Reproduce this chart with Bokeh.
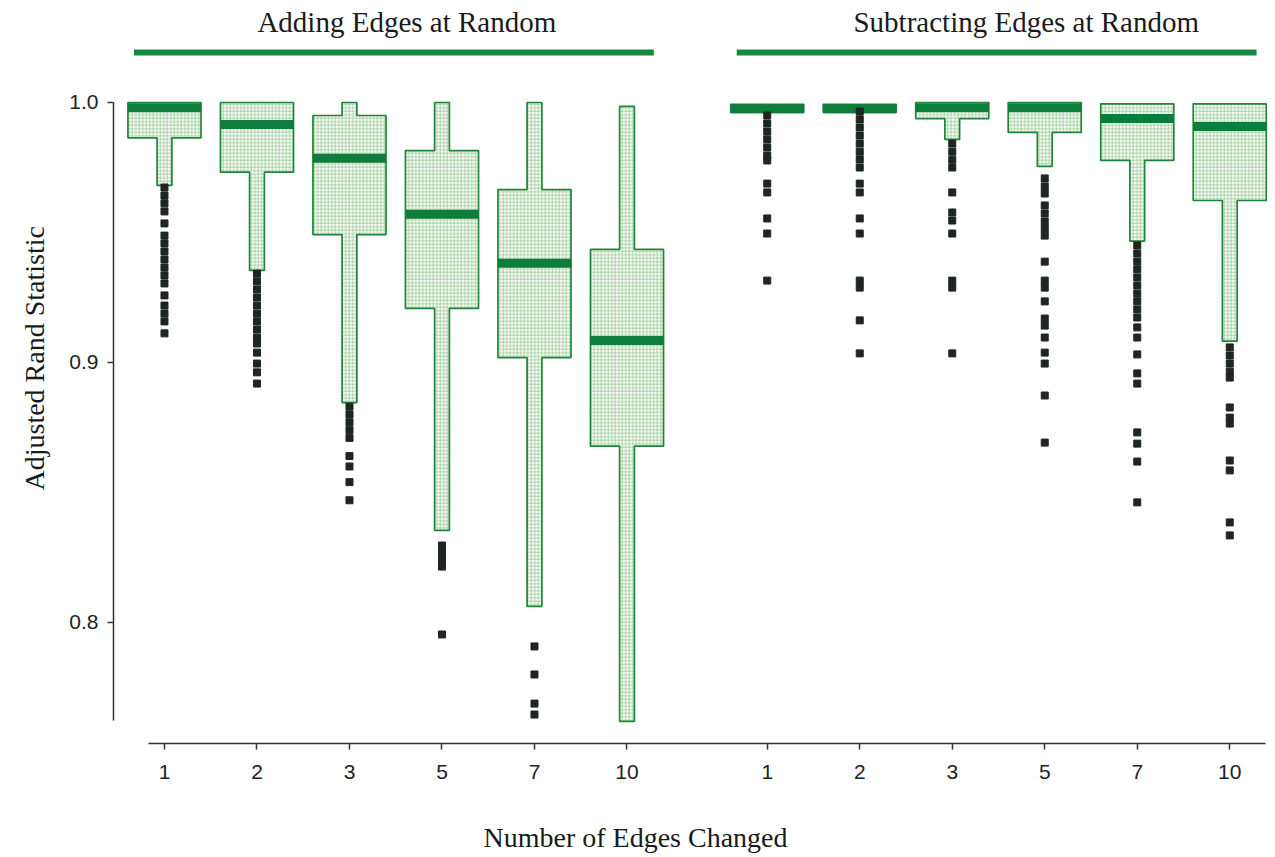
from bokeh.plotting import figure
from bokeh.models import Range1d, FixedTicker, Title, PrintfTickFormatter
from bokeh.core.properties import value
from bokeh.embed import file_html
from bokeh.resources import INLINE

# ---------------- data ----------------
categories = ["1", "2", "3", "5", "7", "10"]
panel_titles = ["Adding Edges at Random", "Subtracting Edges at Random"]

add_whisker_hi = [1.0, 1.0, 1.0, 1.0, 1.0, 0.9985]
add_q3 = [1.0, 1.0, 0.995, 0.9815, 0.9665, 0.9435]
add_median = [0.998, 0.9915, 0.9786, 0.957, 0.9382, 0.9085]
add_q1 = [0.9864, 0.9732, 0.9492, 0.9208, 0.9019, 0.8678]
add_whisker_lo = [0.9681, 0.9354, 0.8846, 0.8354, 0.8062, 0.7620]
add_outliers = [
    [0.9673, 0.9642, 0.9612, 0.9581, 0.9535, 0.9488, 0.9458, 0.9427, 0.9396,
     0.9365, 0.9335, 0.9304, 0.9258, 0.9219, 0.9188, 0.9158, 0.9112],
    [0.9342, 0.9312, 0.9281, 0.9250, 0.9219, 0.9188, 0.9158, 0.9127, 0.9096,
     0.9073, 0.9038, 0.8996, 0.8962, 0.8919],
    [0.8830, 0.8800, 0.8770, 0.8740, 0.8710, 0.8640, 0.8600, 0.8540, 0.8470],
    [0.8296, 0.8269, 0.8242, 0.8215, 0.7954],
    [0.7908, 0.7800, 0.7688, 0.7646],
    [],
]

sub_whisker_hi = [0.9993, 0.9993, 1.0, 1.0, 0.9995, 0.9995]
sub_q3 = [0.9993, 0.9993, 1.0, 1.0, 0.9995, 0.9995]
sub_median = [0.9976, 0.9976, 0.998, 0.998, 0.9938, 0.9908]
sub_q1 = [0.9962, 0.9962, 0.9938, 0.9885, 0.9777, 0.9623]
sub_whisker_lo = [0.9962, 0.9962, 0.9858, 0.9754, 0.9467, 0.9082]
sub_outliers = [
    [0.9950, 0.9919, 0.9888, 0.9858, 0.9827, 0.9796, 0.9777, 0.9688, 0.9654,
     0.9554, 0.9496, 0.9315],
    [0.9965, 0.9935, 0.9904, 0.9873, 0.9842, 0.9811, 0.9781, 0.9750, 0.9688,
     0.9654, 0.9554, 0.9496, 0.9315, 0.9288, 0.9162, 0.9035],
    [0.9842, 0.9811, 0.9780, 0.9750, 0.9654, 0.9577, 0.9546, 0.9496, 0.9315,
     0.9288, 0.9035],
    [0.9708, 0.9677, 0.9650, 0.9604, 0.9573, 0.9542, 0.9515, 0.9488, 0.9388,
     0.9315, 0.9288, 0.9235, 0.9169, 0.9142, 0.9096, 0.9038, 0.8996, 0.8873,
     0.8692],
    [0.9450, 0.9419, 0.9388, 0.9358, 0.9327, 0.9296, 0.9265, 0.9235, 0.9204,
     0.9173, 0.9135, 0.9096, 0.9031, 0.8958, 0.8919, 0.8731, 0.8688, 0.8619,
     0.8462],
    [0.9058, 0.9027, 0.8996, 0.8965, 0.8942, 0.8827, 0.8788, 0.8765, 0.8623,
     0.8585, 0.8385, 0.8335],
]

# ---------------- layout / style ----------------
GROUP_OFFSETS = [0.0, 6.516]
BOX_W = 0.79
WHISK_W = 0.16
GREEN_EDGE = "#1f853b"
GREEN_MED = "#0d7d3c"
GREEN_RULE = "#14893f"
HATCH = "#93c58c"
DOT = "#1f2622"
SERIF = "Liberation Serif"
SANS = "Liberation Sans"

p = figure(frame_width=1154, frame_height=735,
           x_range=Range1d(-0.551, 11.924), y_range=Range1d(0.75346, 1.03615),
           output_backend="svg", toolbar_location=None,
           min_border_left=113, min_border_right=0, min_border_top=8, min_border_bottom=0)
p.xgrid.visible = False
p.ygrid.visible = False
p.outline_line_color = None
p.background_fill_color = "white"
p.border_fill_color = "white"

groups = [
    (add_whisker_hi, add_q3, add_median, add_q1, add_whisker_lo, add_outliers),
    (sub_whisker_hi, sub_q3, sub_median, sub_q1, sub_whisker_lo, sub_outliers),
]

poly_xs, poly_ys = [], []
med_x0, med_x1, med_y = [], [], []
out_x, out_y = [], []
tick_pos, tick_lab = [], []
for g, (whi, q3, med, q1, wlo, outs) in enumerate(groups):
    for i, cat in enumerate(categories):
        c = GROUP_OFFSETS[g] + i
        b, w = BOX_W / 2, WHISK_W / 2
        poly_xs.append([c - w, c + w, c + w, c + b, c + b, c + w, c + w,
                        c - w, c - w, c - b, c - b, c - w])
        poly_ys.append([whi[i], whi[i], q3[i], q3[i], q1[i], q1[i], wlo[i],
                        wlo[i], q1[i], q1[i], q3[i], q3[i]])
        med_x0.append(c - b)
        med_x1.append(c + b)
        med_y.append(med[i])
        for v in outs[i]:
            out_x.append(c)
            out_y.append(v)
        tick_pos.append(c)
        tick_lab.append(cat)

p.patches(xs=poly_xs, ys=poly_ys, fill_color="#f6faf4", line_color=GREEN_EDGE,
          line_width=1.7, hatch_pattern="+", hatch_color=HATCH, hatch_scale=3.5,
          hatch_weight=0.7)
p.segment(x0=med_x0, y0=med_y, x1=med_x1, y1=med_y, line_color=GREEN_MED,
          line_width=9, line_cap="butt")
p.scatter(x=out_x, y=out_y, marker="square", size=7, fill_color=DOT,
          line_color=DOT)

# panel titles and rules
for g, title in enumerate(panel_titles):
    first = GROUP_OFFSETS[g]
    last = GROUP_OFFSETS[g] + len(categories) - 1
    p.segment(x0=[first - 0.33], y0=[1.0192], x1=[last + 0.29], y1=[1.0192],
              line_color=GREEN_RULE, line_width=6, line_cap="butt")
    shift = [0.12, 0.30][g]
    p.text(x=[(first + last) / 2 + shift], y=[1.0308], text=[title],
           text_font=value(SERIF), text_font_size="29px",
           text_color="#1a1a1a", text_align="center", text_baseline="middle")

# axes
xa = p.xaxis[0]
xa.ticker = FixedTicker(ticks=tick_pos)
xa.major_label_overrides = {pos: lab for pos, lab in zip(tick_pos, tick_lab)}
xa.bounds = (-0.173, 11.903)
xa.minor_tick_out = 0
xa.minor_tick_in = 0
xa.major_tick_in = 0
xa.major_tick_out = 6
xa.axis_line_color = "#333333"
xa.axis_line_width = 1.5
xa.major_tick_line_color = "#333333"
xa.major_tick_line_width = 1.5
xa.major_label_text_font = SANS
xa.major_label_text_font_size = "21px"
xa.major_label_text_color = "#222222"
xa.major_label_standoff = 15

ya = p.yaxis[0]
ya.ticker = FixedTicker(ticks=[0.8, 0.9, 1.0])
ya.formatter = PrintfTickFormatter(format="%.1f")
ya.bounds = (0.7623, 1.0)
ya.minor_tick_out = 0
ya.minor_tick_in = 0
ya.major_tick_in = 0
ya.major_tick_out = 6
ya.axis_line_color = "#333333"
ya.axis_line_width = 1.5
ya.major_tick_line_color = "#333333"
ya.major_tick_line_width = 1.5
ya.major_label_text_font = SANS
ya.major_label_text_font_size = "21px"
ya.major_label_text_color = "#222222"
ya.major_label_standoff = 9

p.add_layout(Title(text="Adjusted Rand Statistic", align="left", offset=253,
                   text_font=SERIF, text_font_size="28px", text_font_style="normal",
                   text_color="#1a1a1a", standoff=33), "left")
p.add_layout(Title(text="Number of Edges Changed", align="left", offset=370,
                   text_font=SERIF, text_font_size="28px", text_font_style="normal",
                   text_color="#1a1a1a", standoff=76), "below")

open("out.html", "w").write(file_html(p, INLINE))
